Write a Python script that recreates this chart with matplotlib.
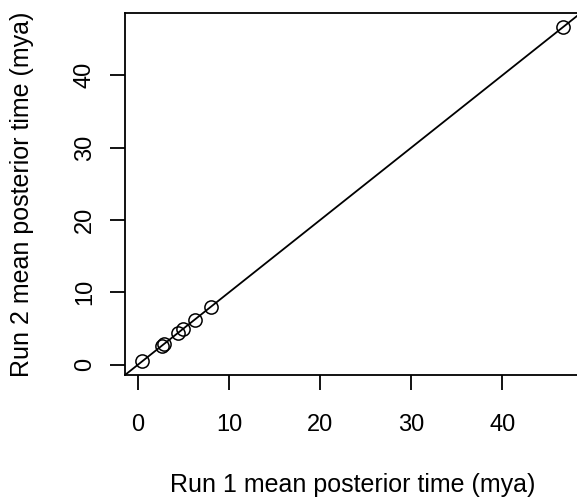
import matplotlib
matplotlib.use('Agg')
import matplotlib.pyplot as plt

# mean posterior node ages from the two runs (mya)
run1 = [0.45, 2.6, 2.9, 4.35, 4.9, 6.3, 8.05, 46.6]
run2 = [0.45, 2.6, 2.9, 4.35, 4.9, 6.2, 8.0, 46.7]
xticks = [0, 10, 20, 30, 40]
yticks = [0, 10, 20, 30, 40]

plt.rcParams['font.family'] = ['Liberation Sans', 'DejaVu Sans']

fig = plt.figure(figsize=(5.77, 4.99), dpi=100)
ax = fig.add_axes([0.2166, 0.2485, 0.79, 0.7255])

lo = -1.42
hi = 48.6
ax.set_xlim(lo, hi)
ax.set_ylim(lo, hi)

# y = x reference line
ax.plot([lo, hi], [lo, hi], color='black', lw=1.3)
ax.plot(run1, run2, 'o', mfc='none', mec='black', ms=9.5, mew=1.1)

for s in ax.spines.values():
    s.set_linewidth(1.3)

ax.set_xticks(xticks)
ax.set_yticks(yticks)
ax.tick_params(length=11, width=1.3, labelsize=17)
ax.tick_params(axis='x', pad=17)
ax.tick_params(axis='y', pad=10)
for lab in ax.get_yticklabels():
    lab.set_rotation(90)
    lab.set_va('center')

ax.set_xlabel('Run 1 mean posterior time (mya)', fontsize=18)
ax.set_ylabel('Run 2 mean posterior time (mya)', fontsize=18)
ax.xaxis.set_label_coords(0.5, -0.27)
ax.yaxis.set_label_coords(-0.2, 0.5)

fig.savefig('out.png', dpi=100)
plt.close()
